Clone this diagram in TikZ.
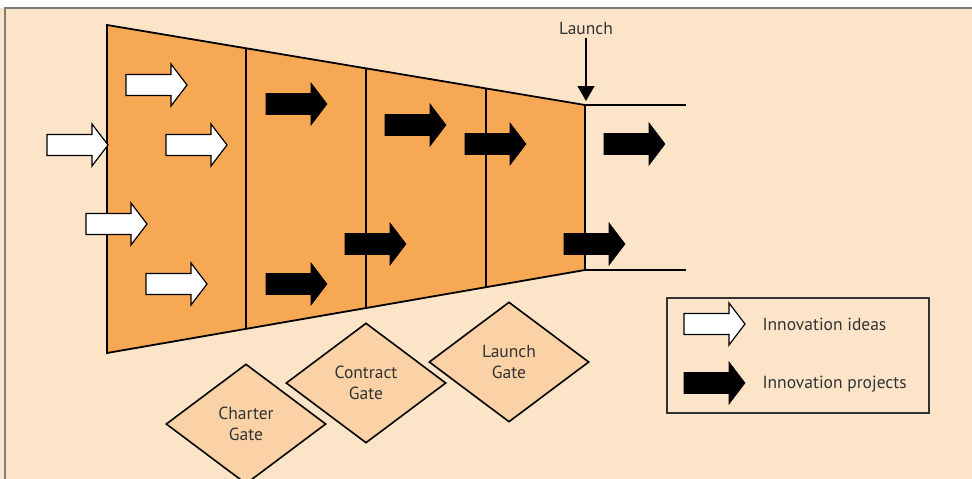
\documentclass[tikz,border=0pt]{standalone}
\usepackage{fontspec}
\setmainfont{PT Sans}
\usetikzlibrary{shapes.geometric,arrows.meta,calc}
\definecolor{PaleOrange}{RGB}{252,228,201}
\definecolor{FunnelOrange}{RGB}{247,168,85}
\definecolor{GateOrange}{RGB}{251,210,166}
\definecolor{TextGray}{RGB}{51,51,51}
\definecolor{FrameGray}{RGB}{125,125,125}
\tikzset{
  blockarrow/.pic={
    \path[pic actions] (0,-10.5) -- (45,-10.5) -- (45,-21) -- (61,0)
      -- (45,21) -- (45,10.5) -- (0,10.5) -- cycle;
  },
  idea/.style={draw=black, fill=white, line width=1.2pt},
  project/.style={draw=black, fill=black, line width=0.6pt},
  funnel/.style={draw=black, fill=FunnelOrange, line width=1.8pt, line join=miter},
  stage/.style={draw=black, line width=1.5pt},
  gate/.style={diamond, draw=black, fill=GateOrange, line width=1.6pt,
    minimum width=160pt, minimum height=120pt, inner sep=0pt,
    align=center, text=TextGray, font=\fontsize{17.5}{21.5}\selectfont},
  legendtext/.style={anchor=west, text=TextGray, font=\fontsize{17.5}{20}\selectfont}
}

\begin{document}
\begin{tikzpicture}[x=1pt, y=-1pt]
  \useasboundingbox (0,0) rectangle (972,479);
  % page background and frame
  \fill[PaleOrange] (0,8) rectangle (972,479);
  \draw[FrameGray, line width=1.5pt] (5,479) -- (5,8) -- (972,8);

  % funnel with its three stage borders
  \coordinate (tl) at (107,25);
  \coordinate (tr) at (585,105);
  \coordinate (br) at (585,270);
  \coordinate (bl) at (107,353);
  \draw[funnel] (tl) -- (tr) -- (br) -- (bl) -- cycle;
  \foreach \f in {0.2908,0.5418,0.7929}
    \draw[stage] ($(tl)!\f!(tr)$) -- ($(bl)!\f!(br)$);

  % market lines after launch
  \coordinate (tre) at (686,105);
  \coordinate (bre) at (686,270);
  \draw[line width=1.2pt] (tr) -- (tre);
  \draw[line width=1.2pt] (br) -- (bre);

  \node[text=TextGray, font=\fontsize{17.5}{20}\selectfont] (launch) at (586,28) {Launch};
  \draw[line width=1.2pt, -{Triangle[length=15pt,width=17pt]}, shorten >=4pt]
    (launch) -- (launch |- tr);

  % ideas
  \pic[idea] at (47,145) {blockarrow};
  \pic[idea] at (126,85) {blockarrow};
  \pic[idea] at (166,145) {blockarrow};
  \pic[idea] at (86,224) {blockarrow};
  \pic[idea] at (146,284) {blockarrow};

  % projects
  \pic[project] at (266,104) {blockarrow};
  \pic[project] at (266,284) {blockarrow};
  \pic[project] at (385,125) {blockarrow};
  \pic[project] at (345,244) {blockarrow};
  \pic[project] at (465,144) {blockarrow};
  \pic[project] at (604,144) {blockarrow};
  \pic[project] at (564,244) {blockarrow};

  % gates
  \node[gate] (charter) at (246,424) {Charter\\Gate};
  \node[gate] (contract) at (366,383) {Contract\\Gate};
  \node[gate] (launchgate) at (509,362) {Launch\\Gate};

  % legend
  \draw[draw=TextGray, line width=2pt] (667,298) rectangle (929,413);
  \pic[idea] at (684,324) {blockarrow};
  \pic[project] at (684,383) {blockarrow};
  \node[legendtext] (ideas) at (759,324) {Innovation ideas};
  \node[legendtext] (projects) at (759,384) {Innovation projects};
\end{tikzpicture}
\end{document}
